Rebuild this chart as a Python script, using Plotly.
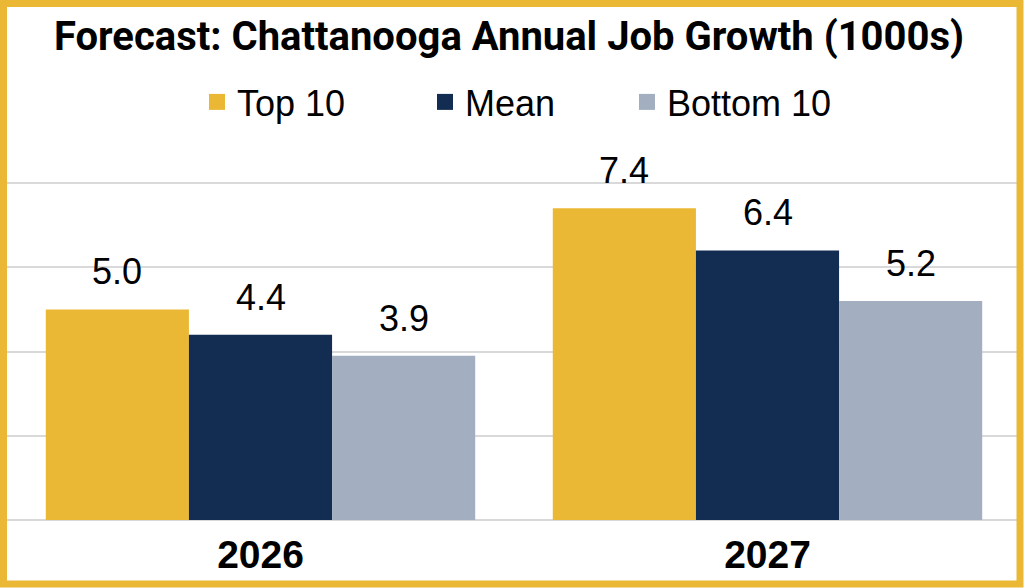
import plotly.graph_objects as go

# values (1000s of jobs)
years = ["2026", "2027"]
series_names = ["Top 10", "Mean", "Bottom 10"]
top10 = [5.0, 7.4]
mean = [4.4, 6.4]
bottom10 = [3.9, 5.2]
grid_ticks = [0, 2, 4, 6, 8]

colors = ["#EBB835", "#132D52", "#A3AFC0"]
gold = "#EBB835"

W, H = 1024, 588
ml, mr, mt, mb = 7, 3, 179, 68
pw, ph = W - ml - mr, H - mt - mb
unit_px = 42.125          # pixels per 1000 jobs
ytop = ph / unit_px
bargap = 0.153

fig = go.Figure()

all_series = [top10, mean, bottom10]
for name, vals, col in zip(series_names, all_series, colors):
    fig.add_trace(go.Bar(x=years, y=vals, name=name, marker_color=col,
                         marker_line_width=0, showlegend=False))

# legend entries (bigger squares than the bar legend symbol allows)
legend_ids = ["legend", "legend2", "legend3"]
for name, col, lid in zip(series_names, colors, legend_ids):
    fig.add_trace(go.Scatter(x=years[:1], y=[None], mode="markers", name=name,
                             marker=dict(symbol="square", size=16, color=col),
                             legend=lid, hoverinfo="skip"))

# value labels above each bar
bw = (1 - bargap) / len(all_series)
for j, vals in enumerate(all_series):
    for i, v in enumerate(vals):
        fig.add_annotation(x=i + (j - 1) * bw, y=v, text=f"{v:.1f}",
                           showarrow=False, yanchor="bottom", yshift=15,
                           font=dict(family="Liberation Sans, Arial", size=36, color="#000000"))


def px_x(p):
    return (p - ml) / pw


def px_y(p):
    return (H - mb - p) / ph


# gold frame round the whole picture
fig.add_shape(type="rect", xref="paper", yref="paper",
              x0=px_x(3.5), x1=px_x(1020), y0=px_y(584), y1=px_y(3.5),
              line=dict(color=gold, width=7), layer="above")

legend_x = [197, 425, 627]
leg = {}
for lid, lx in zip(legend_ids, legend_x):
    leg[lid] = dict(xref="container", yref="container", x=lx / W, y=1 - 102 / H,
                    xanchor="left", yanchor="middle", bgcolor="rgba(0,0,0,0)",
                    font=dict(family="Liberation Sans, Arial", size=36, color="#000000"))

fig.update_layout(
    width=W, height=H,
    margin=dict(l=ml, r=mr, t=mt, b=mb, pad=0, autoexpand=False),
    paper_bgcolor="white", plot_bgcolor="white",
    barmode="group", bargap=bargap, bargroupgap=0,
    title=dict(text="<b>Forecast: Chattanooga Annual Job Growth (1000s)</b>",
               x=509 / W, xanchor="center", y=1 - 36 / H, yanchor="middle",
               font=dict(family="Roboto", size=40, color="#000000")),
    **leg,
)
fig.update_xaxes(type="category", range=[-0.5, 1.5], showgrid=False, showline=False, ticks="",
                 ticklabelstandoff=8,
                 tickfont=dict(family="Liberation Sans, Arial", size=39, color="#000000", weight="bold"))
fig.update_yaxes(range=[0, ytop], tickvals=grid_ticks, showticklabels=False,
                 showgrid=True, gridcolor="#D9D9D9", gridwidth=2,
                 zeroline=True, zerolinecolor="#D9D9D9", zerolinewidth=2)

fig.write_html("out.html", config={"displayModeBar": False},
               post_script="document.body.style.margin='0';document.body.style.overflow='hidden';")
